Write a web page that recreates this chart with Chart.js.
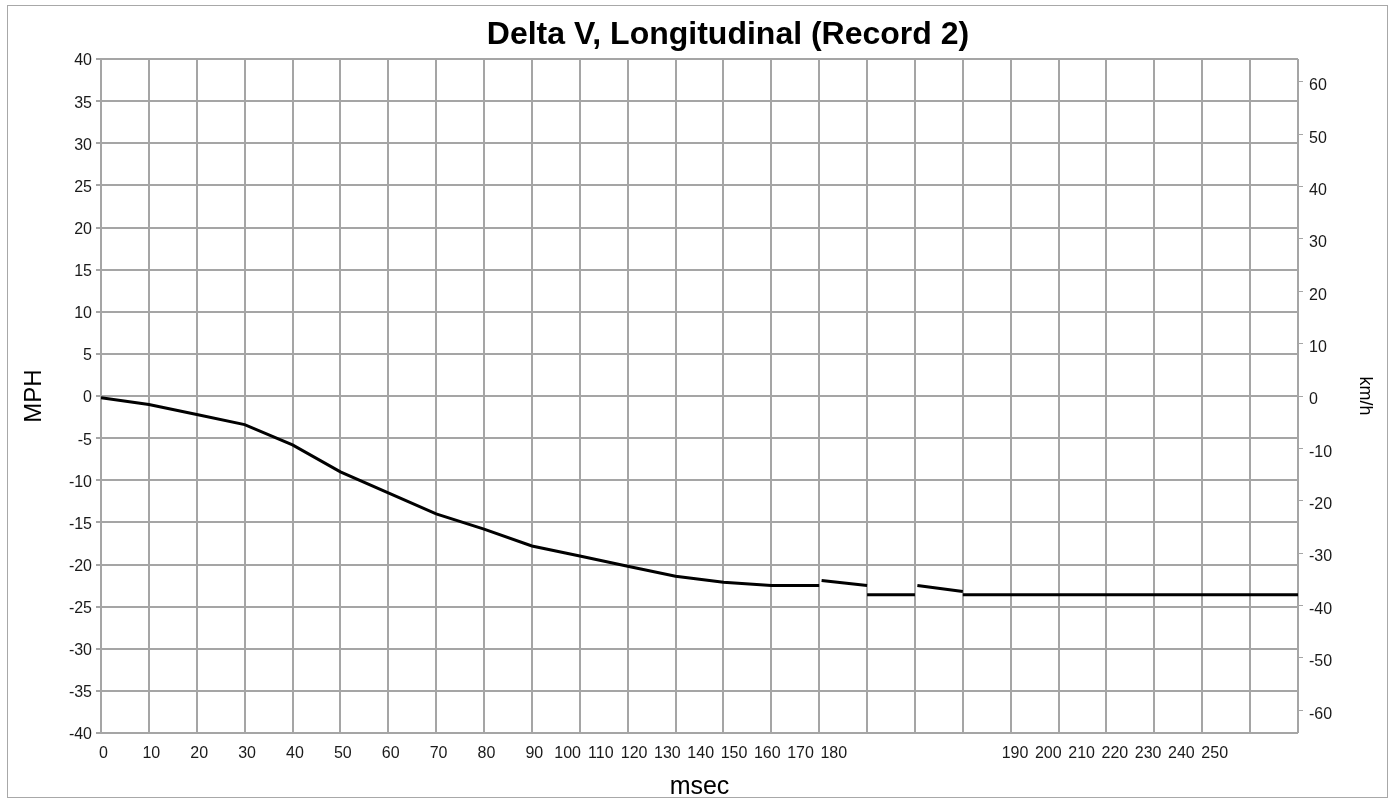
<!DOCTYPE html>
<html>
<head>
<meta charset="utf-8">
<title>Delta V, Longitudinal (Record 2)</title>
<script src="https://cdn.jsdelivr.net/npm/chart.js@4.4.1/dist/chart.umd.min.js"></script>
<style>
  html, body { margin: 0; padding: 0; background: #fff; }
  #wrap { position: relative; width: 1393px; height: 802px; }
  #frame { position: absolute; left: 7px; top: 5px; width: 1379px; height: 791px; border: 1px solid #a8a8a8; pointer-events: none; }
</style>
</head>
<body>
<div id="wrap">
  <canvas id="deltav-chart" width="1393" height="802"></canvas>
  <div id="frame"></div>
</div>
<script>
// tick labels under the chart, in order
const msecLabels = ['0', '10', '20', '30', '40', '50', '60', '70', '80', '90', '100', '110', '120',
    '130', '140', '150', '160', '170', '180', '190', '200', '210', '220', '230', '240', '250'];
const kmhTicks = [60, 50, 40, 30, 20, 10, 0, -10, -20, -30, -40, -50, -60];

// delta V trace in MPH, recorded as separate pieces
const rampMsec = [0, 10, 20, 30, 40, 50, 60, 70, 80, 90, 100, 110, 120, 130, 140, 150];
const rampMph = [-0.2, -1.0, -2.2, -3.4, -5.8, -9.0, -11.5, -14.0, -15.8, -17.8, -19.0, -20.2, -21.4, -22.1, -22.5, -22.5];
const step1Msec = [150.5, 160];
const step1Mph = [-21.9, -22.5];
const step2Msec = [160, 170];
const step2Mph = [-23.6, -23.6];
const step3Msec = [170.5, 180];
const step3Mph = [-22.5, -23.2];
const tailMsec = [180, 190, 200, 210, 220, 230, 240, 250];
const tailMph = [-23.6, -23.6, -23.6, -23.6, -23.6, -23.6, -23.6, -23.6];

const chartTitle = 'Delta V, Longitudinal (Record 2)';
const MPH_TO_KMH = 1.609344;
const gridGray = '#a5a5a5';

// join the pieces, with a null point between them so the line breaks
const pieces = [[rampMsec, rampMph], [step1Msec, step1Mph], [step2Msec, step2Mph], [step3Msec, step3Mph], [tailMsec, tailMph]];
const traceData = [];
pieces.forEach(([xs, ys], i) => {
    if (i > 0) traceData.push({ x: xs[0], y: null });
    xs.forEach((x, j) => traceData.push({ x: x, y: ys[j] }));
});

// where the original chart put its msec labels (packed after 90 and 190)
function labelSpot(i) {
    if (i <= 9) return i * 10 + 0.5;
    if (i <= 18) return 90.5 + (i - 9) * 6.95;
    return 190.9 + (i - 19) * 6.95;
}

// the title sits a little right of centre in the original
const offsetTitle = {
    id: 'offsetTitle',
    afterDraw(chart) {
        const ctx = chart.ctx;
        ctx.save();
        ctx.font = "bold 32px 'Liberation Sans', Arial, sans-serif";
        ctx.fillStyle = '#000';
        ctx.textAlign = 'center';
        ctx.textBaseline = 'middle';
        ctx.fillText(chartTitle, 728, 35);
        ctx.restore();
    }
};

Chart.defaults.font.family = "'Liberation Sans', Arial, sans-serif";
Chart.defaults.color = '#1a1a1a';

document.addEventListener('DOMContentLoaded', () => {
    const context = document.getElementById('deltav-chart');

    new Chart(context, {
        type: 'line',
        data: {
            datasets: [{
                label: 'Delta V',
                data: traceData,
                borderColor: '#000',
                borderWidth: 3,
                pointRadius: 0,
                tension: 0,
                spanGaps: false,
                xAxisID: 'x',
                yAxisID: 'y'
            }]
        },
        options: {
            responsive: false,
            animation: false,
            layout: { padding: { top: 59, left: 0, right: 0, bottom: 0 } },
            plugins: {
                legend: { display: false },
                tooltip: { enabled: false },
                title: { display: false }
            },
            scales: {
                x: {
                    type: 'linear',
                    position: 'bottom',
                    min: 0,
                    max: 250,
                    ticks: { display: false, stepSize: 10 },
                    grid: { color: gridGray, lineWidth: 2, drawTicks: false },
                    border: { display: false },
                    afterFit: axis => { axis.height = 0; }
                },
                xl: {
                    type: 'linear',
                    position: 'bottom',
                    min: 0,
                    max: 250,
                    grid: { display: false },
                    border: { display: false },
                    afterBuildTicks: axis => {
                        axis.ticks = msecLabels.map((label, i) => ({ value: labelSpot(i) }));
                    },
                    ticks: {
                        autoSkip: false,
                        maxRotation: 0,
                        padding: 3,
                        font: { size: 16 },
                        callback: (value, index) => msecLabels[index]
                    },
                    title: {
                        display: true,
                        text: 'msec',
                        color: '#000',
                        font: { size: 25 },
                        padding: { top: 0, bottom: 0 }
                    },
                    afterFit: axis => { axis.height = 69; }
                },
                y: {
                    position: 'left',
                    min: -40,
                    max: 40,
                    ticks: { stepSize: 5, font: { size: 16 }, padding: 4, labelOffset: 2 },
                    grid: { color: gridGray, lineWidth: 2, tickLength: 5 },
                    border: { display: false },
                    title: {
                        display: true,
                        text: 'MPH',
                        color: '#000',
                        font: { size: 24 },
                        padding: { top: 20, bottom: 0 }
                    },
                    afterFit: axis => { axis.width = 101; }
                },
                y2: {
                    position: 'right',
                    min: -40 * MPH_TO_KMH,
                    max: 40 * MPH_TO_KMH,
                    afterBuildTicks: axis => {
                        axis.ticks = kmhTicks.map(v => ({ value: v }));
                    },
                    ticks: { font: { size: 16 }, padding: 6, labelOffset: 4 },
                    grid: { drawOnChartArea: false, color: gridGray, lineWidth: 1, tickLength: 5 },
                    border: { display: false },
                    title: {
                        display: true,
                        text: 'km/h',
                        color: '#000',
                        font: { size: 18 },
                        padding: { top: 17, bottom: 0 }
                    },
                    afterFit: axis => { axis.width = 95; }
                }
            }
        },
        plugins: [offsetTitle]
    });
});
</script>
</body>
</html>
